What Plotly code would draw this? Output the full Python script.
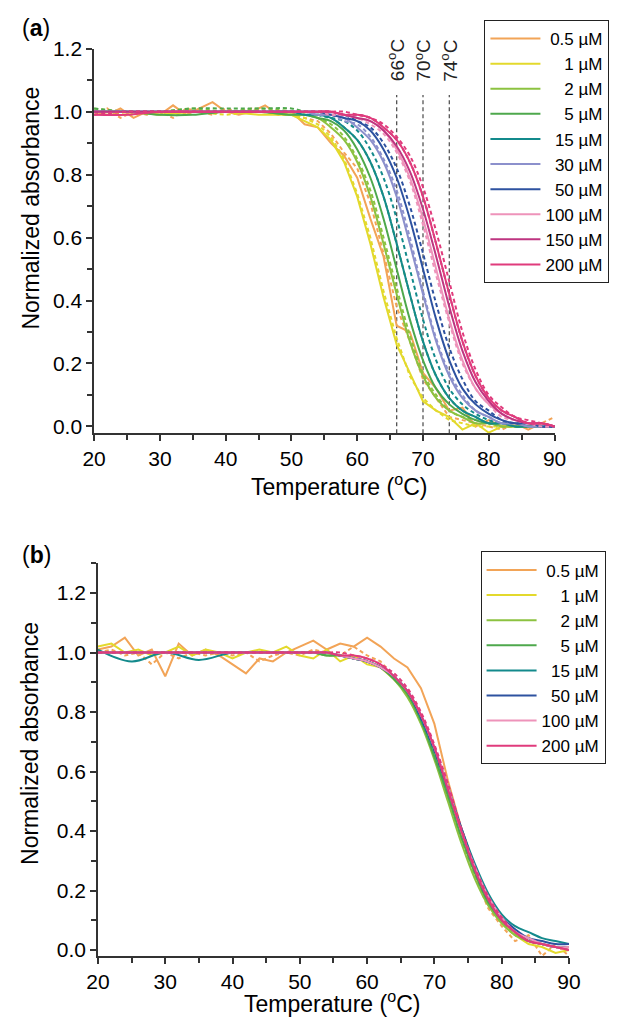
import plotly.graph_objects as go

# ---------------- data ----------------
# temperature grids (degC)
T_SMOOTH = [20, 25, 30, 35, 40, 45, 50, 52, 54, 56, 58, 60, 62, 64, 66, 68, 70,
            72, 74, 76, 78, 80, 82, 84, 86, 88, 90]
T_RAW = [20, 22, 24, 26, 28, 30, 32, 34, 36, 38, 40, 42, 44, 46, 48, 50, 52, 54,
         56, 58, 60, 62, 64, 66, 68, 70, 72, 74, 76, 78, 80, 82, 84, 86, 88, 90]

LABELS_A = ["0.5 µM", "1 µM", "2 µM", "5 µM", "15 µM", "30 µM", "50 µM",
            "100 µM", "150 µM", "200 µM"]
LABELS_B = ["0.5 µM", "1 µM", "2 µM", "5 µM", "15 µM", "50 µM", "100 µM", "200 µM"]

COLORS = {
    "0.5 µM": "#F2A457", "1 µM": "#E3D92C", "2 µM": "#8CC240", "5 µM": "#4EA84C",
    "15 µM": "#138A8C", "30 µM": "#8C90CC", "50 µM": "#2E52A0", "100 µM": "#EE93BA",
    "150 µM": "#BE3580", "200 µM": "#E03B7C",
}

A_05_SOLID = [1.00, 0.99, 1.01, 0.98, 1.00, 0.99, 1.02, 0.99, 1.01, 1.03, 1.00, 0.99,
              1.00, 1.02, 0.99, 1.00, 0.96, 0.95, 0.90, 0.86, 0.79, 0.66, 0.54, 0.32,
              0.30, 0.17, 0.12, 0.05, 0.06, 0.00, 0.02, 0.00, 0.01, -0.01, 0.01, 0.00]
A_05_DASH = [0.99, 1.01, 0.98, 1.00, 0.99, 1.00, 0.98, 1.01, 1.00, 0.99, 1.01, 1.00,
             1.01, 1.00, 0.99, 0.99, 0.98, 0.97, 0.93, 0.87, 0.82, 0.71, 0.55, 0.38,
             0.27, 0.15, 0.09, 0.03, 0.02, 0.01, 0.00, -0.01, 0.01, 0.00, 0.01, 0.03]
A_1_SOLID = [1.00, 1.00, 0.99, 1.00, 1.00, 0.99, 0.99, 0.97, 0.95, 0.91, 0.84, 0.73,
             0.58, 0.41, 0.26, 0.17, 0.08, 0.05, 0.03, -0.01, 0.01, -0.02, 0.00, 0.00,
             0.00, 0.00, 0.00]
A_1_DASH = [1.00, 0.99, 1.00, 1.00, 0.99, 1.00, 0.99, 0.98, 0.96, 0.92, 0.85, 0.74,
            0.60, 0.43, 0.28, 0.16, 0.09, 0.05, 0.02, 0.01, 0.00, 0.00, 0.00, 0.00,
            0.00, 0.00, 0.00]
A_2_SOLID = [1.00, 1.00, 1.00, 1.00, 1.00, 1.00, 0.99, 0.99, 0.98, 0.95, 0.91, 0.84,
             0.73, 0.58, 0.42, 0.27, 0.16, 0.09, 0.05, 0.03, 0.01, 0.01, 0.00, 0.00,
             0.00, 0.00, 0.00]
A_2_DASH = [1.01, 1.00, 1.00, 1.01, 1.00, 1.01, 1.00, 0.99, 0.98, 0.96, 0.92, 0.85,
            0.75, 0.60, 0.44, 0.29, 0.17, 0.10, 0.05, 0.03, 0.02, 0.01, 0.00, 0.00,
            0.00, 0.00, 0.00]
A_5_SOLID = [1.00, 1.00, 0.99, 0.99, 1.00, 1.00, 0.99, 0.99, 0.98, 0.97, 0.94, 0.88,
             0.79, 0.66, 0.50, 0.34, 0.21, 0.12, 0.07, 0.04, 0.02, 0.01, 0.01, 0.00,
             0.00, 0.00, 0.00]
A_5_DASH = [1.01, 1.00, 1.00, 1.01, 1.01, 1.01, 1.01, 1.00, 0.99, 0.98, 0.95, 0.91,
            0.84, 0.73, 0.58, 0.42, 0.27, 0.16, 0.09, 0.05, 0.03, 0.01, 0.01, 0.00,
            0.00, 0.00, 0.00]
A_15_SOLID = [1.00, 1.00, 1.00, 1.00, 1.00, 1.00, 1.00, 0.99, 0.99, 0.98, 0.95, 0.91,
              0.84, 0.73, 0.58, 0.42, 0.27, 0.16, 0.09, 0.05, 0.03, 0.01, 0.01, 0.00,
              0.00, 0.00, 0.00]
A_15_DASH = [1.00, 1.00, 1.00, 1.00, 1.00, 1.00, 1.00, 1.00, 0.99, 0.98, 0.97, 0.94,
             0.88, 0.79, 0.66, 0.50, 0.34, 0.21, 0.12, 0.07, 0.04, 0.02, 0.01, 0.01,
             0.00, 0.00, 0.00]
A_30_SOLID = [1.00, 1.00, 1.00, 1.00, 1.00, 1.00, 1.00, 1.00, 0.99, 0.99, 0.98, 0.95,
              0.91, 0.84, 0.73, 0.58, 0.42, 0.27, 0.16, 0.09, 0.05, 0.03, 0.01, 0.01,
              0.00, 0.00, 0.00]
A_30_DASH = [1.00, 1.00, 1.00, 1.00, 1.00, 1.00, 1.00, 1.00, 0.99, 0.99, 0.97, 0.96,
             0.92, 0.85, 0.75, 0.60, 0.43, 0.28, 0.17, 0.10, 0.05, 0.03, 0.01, 0.01,
             0.00, 0.00, 0.00]
A_50_SOLID = [1.00, 1.00, 1.00, 1.00, 1.00, 1.00, 1.00, 1.00, 1.00, 0.99, 0.98, 0.97,
              0.94, 0.88, 0.79, 0.66, 0.50, 0.34, 0.21, 0.12, 0.07, 0.04, 0.02, 0.01,
              0.01, 0.00, 0.00]
A_50_DASH = [1.00, 1.00, 1.00, 1.00, 1.00, 1.00, 1.00, 1.00, 1.00, 0.99, 0.99, 0.97,
             0.95, 0.90, 0.82, 0.70, 0.55, 0.39, 0.25, 0.15, 0.08, 0.05, 0.02, 0.01,
             0.01, 0.00, 0.00]
A_100_SOLID = [1.00, 1.00, 1.00, 1.00, 1.00, 1.00, 1.00, 1.00, 1.00, 1.00, 0.99, 0.98,
               0.97, 0.94, 0.88, 0.79, 0.66, 0.50, 0.34, 0.21, 0.12, 0.07, 0.04, 0.02,
               0.01, 0.01, 0.00]
A_100_DASH = [1.00, 1.00, 1.00, 1.00, 1.00, 1.00, 1.00, 1.00, 1.00, 0.99, 0.99, 0.98,
              0.96, 0.93, 0.87, 0.78, 0.64, 0.48, 0.33, 0.20, 0.12, 0.07, 0.03, 0.02,
              0.01, 0.00, 0.00]
A_150_SOLID = [1.00, 1.00, 1.00, 1.00, 1.00, 1.00, 1.00, 1.00, 1.00, 1.00, 0.99, 0.98,
               0.97, 0.94, 0.89, 0.81, 0.69, 0.54, 0.38, 0.24, 0.14, 0.08, 0.04, 0.02,
               0.01, 0.01, 0.00]
A_150_DASH = [1.00, 1.00, 1.00, 1.00, 1.00, 1.00, 1.00, 1.00, 1.00, 1.00, 0.99, 0.99,
              0.98, 0.95, 0.91, 0.84, 0.73, 0.58, 0.42, 0.27, 0.16, 0.09, 0.05, 0.03,
              0.01, 0.01, 0.00]
A_200_SOLID = [0.99, 0.99, 1.00, 1.00, 1.00, 1.00, 1.00, 1.00, 1.00, 1.00, 0.99, 0.99,
               0.98, 0.95, 0.91, 0.84, 0.73, 0.58, 0.42, 0.27, 0.16, 0.09, 0.05, 0.03,
               0.01, 0.01, 0.00]
A_200_DASH = [0.99, 1.00, 1.00, 1.00, 1.00, 1.00, 1.00, 1.00, 1.00, 1.00, 1.00, 0.99,
              0.98, 0.96, 0.92, 0.86, 0.76, 0.62, 0.46, 0.30, 0.18, 0.10, 0.06, 0.03,
              0.02, 0.01, 0.00]

B_05_SOLID = [1.01, 1.02, 1.05, 0.99, 1.01, 0.92, 1.03, 0.99, 1.01, 0.99, 0.96, 0.93,
              0.98, 0.97, 1.00, 1.02, 1.04, 1.01, 1.03, 1.02, 1.05, 1.02, 0.98, 0.95,
              0.88, 0.76, 0.57, 0.41, 0.28, 0.17, 0.10, 0.06, 0.03, 0.02, 0.01, 0.00]
B_05_DASH = [1.00, 1.01, 0.99, 1.00, 0.96, 1.00, 0.98, 1.00, 0.99, 1.00, 0.99, 1.00,
             0.97, 0.99, 1.00, 0.99, 1.01, 1.00, 0.99, 1.02, 0.99, 0.97, 0.92, 0.86,
             0.77, 0.66, 0.53, 0.39, 0.25, 0.14, 0.08, 0.03, 0.05, -0.02, 0.02, -0.02]
B_1_SOLID = [1.02, 1.03, 1.00, 1.01, 0.99, 1.00, 1.02, 0.99, 1.01, 1.00, 0.98, 1.00,
             1.01, 1.00, 1.02, 0.99, 0.98, 1.01, 0.97, 0.99, 0.96, 0.95, 0.91, 0.86,
             0.78, 0.66, 0.52, 0.38, 0.26, 0.16, 0.09, 0.05, 0.02, 0.01, -0.01, 0.00]
B_2_SOLID = [1.00, 1.00, 1.00, 1.00, 1.00, 1.00, 1.00, 1.00, 0.99, 0.99, 0.98, 0.97,
             0.95, 0.91, 0.85, 0.76, 0.64, 0.50, 0.36, 0.24, 0.15, 0.09, 0.05, 0.03,
             0.02, 0.01, 0.01]
B_2_DASH = [1.00, 1.00, 1.00, 1.00, 1.00, 1.00, 1.00, 1.00, 0.99, 0.99, 0.98, 0.97,
            0.95, 0.92, 0.86, 0.77, 0.65, 0.51, 0.37, 0.25, 0.16, 0.10, 0.05, 0.03,
            0.02, 0.01, 0.01]
B_5_SOLID = [1.00, 1.00, 1.00, 1.00, 1.00, 1.00, 1.00, 1.00, 0.99, 0.99, 0.98, 0.97,
             0.95, 0.91, 0.86, 0.77, 0.65, 0.52, 0.38, 0.26, 0.16, 0.10, 0.06, 0.03,
             0.02, 0.01, 0.01]
B_15_SOLID = [1.01, 0.97, 1.00, 0.975, 1.00, 1.00, 1.00, 1.00, 1.00, 0.99, 0.98, 0.97,
              0.95, 0.92, 0.87, 0.78, 0.67, 0.54, 0.41, 0.29, 0.19, 0.12, 0.08, 0.06,
              0.04, 0.03, 0.02]
B_50_SOLID = [1.00, 1.00, 1.00, 1.00, 1.00, 1.00, 1.00, 1.00, 1.00, 0.99, 0.98, 0.97,
              0.95, 0.92, 0.87, 0.79, 0.68, 0.55, 0.41, 0.28, 0.18, 0.11, 0.07, 0.04,
              0.03, 0.02, 0.02]
B_50_DASH = [1.00, 1.00, 1.00, 1.00, 1.00, 1.00, 1.00, 1.00, 1.00, 0.99, 0.98, 0.97,
             0.95, 0.92, 0.87, 0.78, 0.67, 0.54, 0.40, 0.27, 0.17, 0.11, 0.06, 0.04,
             0.02, 0.01, 0.01]
B_100_SOLID = [1.00, 1.00, 1.00, 1.00, 1.00, 1.00, 1.00, 1.00, 1.00, 0.99, 0.98, 0.97,
               0.95, 0.92, 0.87, 0.79, 0.68, 0.55, 0.40, 0.28, 0.18, 0.11, 0.06, 0.04,
               0.02, 0.01, 0.01]
B_200_SOLID = [1.00, 1.00, 1.00, 1.00, 1.00, 1.00, 1.00, 1.00, 1.00, 0.99, 0.99, 0.98,
               0.96, 0.92, 0.87, 0.79, 0.68, 0.54, 0.40, 0.27, 0.17, 0.10, 0.06, 0.03,
               0.02, 0.01, 0.00]
B_200_DASH = [1.00, 1.00, 1.00, 1.00, 1.00, 1.00, 1.00, 1.00, 1.00, 1.00, 0.99, 0.98,
              0.96, 0.93, 0.88, 0.80, 0.69, 0.56, 0.41, 0.28, 0.18, 0.11, 0.06, 0.03,
              0.02, 0.01, 0.00]

MELT_MARKS = [66, 70, 74]

PAD = {"0.5 µM": "\u2008", "1 µM": "\u2007\u2007", "2 µM": "\u2007\u2007",
       "5 µM": "\u2007\u2007", "15 µM": "\u2007", "30 µM": "\u2007",
       "50 µM": "\u2007", "100 µM": "", "150 µM": "", "200 µM": ""}

SERIES_A = [
    ("0.5 µM", T_RAW, A_05_SOLID, A_05_DASH, "linear"),
    ("1 µM", T_SMOOTH, A_1_SOLID, A_1_DASH, "linear"),
    ("2 µM", T_SMOOTH, A_2_SOLID, A_2_DASH, "spline"),
    ("5 µM", T_SMOOTH, A_5_SOLID, A_5_DASH, "spline"),
    ("15 µM", T_SMOOTH, A_15_SOLID, A_15_DASH, "spline"),
    ("30 µM", T_SMOOTH, A_30_SOLID, A_30_DASH, "spline"),
    ("50 µM", T_SMOOTH, A_50_SOLID, A_50_DASH, "spline"),
    ("100 µM", T_SMOOTH, A_100_SOLID, A_100_DASH, "spline"),
    ("150 µM", T_SMOOTH, A_150_SOLID, A_150_DASH, "spline"),
    ("200 µM", T_SMOOTH, A_200_SOLID, A_200_DASH, "spline"),
]
SERIES_B = [
    ("0.5 µM", T_RAW, B_05_SOLID, B_05_DASH, "linear"),
    ("1 µM", T_RAW, B_1_SOLID, None, "linear"),
    ("2 µM", T_SMOOTH, B_2_SOLID, B_2_DASH, "spline"),
    ("5 µM", T_SMOOTH, B_5_SOLID, None, "spline"),
    ("15 µM", T_SMOOTH, B_15_SOLID, None, "spline"),
    ("50 µM", T_SMOOTH, B_50_SOLID, B_50_DASH, "spline"),
    ("100 µM", T_SMOOTH, B_100_SOLID, None, "spline"),
    ("200 µM", T_SMOOTH, B_200_SOLID, B_200_DASH, "spline"),
]

# ---------------- figure ----------------
# The page body adds an 8 px margin; the figure is sized so that the page is
# exactly 640 x 1029 and all positions below are given in page pixels.
PAGE_W, PAGE_H = 640, 1029
OFF = 8
W, H = PAGE_W - 2 * OFF, PAGE_H - 2 * OFF
FONT = "Arial, Liberation Sans, Helvetica, sans-serif"


def px(v):
    return (v - OFF) / W


def py(v):
    return 1 - (v - OFF) / H


fig = go.Figure()


def add_panel(series, xa, ya, legend_name):
    for name, temps, solid, dashed, shape in series:
        color = COLORS[name]
        if dashed is not None:
            fig.add_trace(go.Scatter(
                x=temps, y=dashed, mode="lines", name=name + " (rep. 2)",
                line=dict(color=color, width=2, dash="4px,3px", shape=shape),
                xaxis=xa, yaxis=ya, showlegend=False, legend=legend_name))
        fig.add_trace(go.Scatter(
            x=temps, y=solid, mode="lines", name=PAD[name] + name,
            line=dict(color=color, width=2, shape=shape),
            xaxis=xa, yaxis=ya, showlegend=True, legend=legend_name))


add_panel(SERIES_A, "x", "y", "legend")
add_panel(SERIES_B, "x2", "y2", "legend2")

AX = dict(showline=True, linecolor="#333", linewidth=1.5, ticks="outside", ticklen=6,
          tickwidth=1.5, tickcolor="#333", showgrid=False, zeroline=False,
          tickfont=dict(size=21, family=FONT, color="#000"))
XAX = dict(AX, range=[19.99, 90.01], tick0=20, dtick=10,
           minor=dict(dtick=5, ticks="outside", ticklen=5, tickwidth=1.5,
                      tickcolor="#333", showgrid=False))
YAX = dict(AX, tick0=0, dtick=0.2, tickformat=".1f",
           minor=dict(dtick=0.1, ticks="outside", ticklen=5, tickwidth=1.5,
                      tickcolor="#333", showgrid=False))

fig.update_layout(
    width=W, height=H, autosize=False,
    margin=dict(l=0, r=0, t=0, b=0),
    paper_bgcolor="white", plot_bgcolor="white",
    font=dict(family=FONT, color="#000"),
    xaxis=dict(XAX, domain=[px(85), px(564)], anchor="y"),
    yaxis=dict(YAX, domain=[py(429), py(38)], range=[-0.022, 1.2005], anchor="x"),
    xaxis2=dict(XAX, domain=[px(89), px(579)], anchor="y2"),
    yaxis2=dict(YAX, domain=[py(960), py(561)], range=[-0.02, 1.30], anchor="x2"),
    legend=dict(x=px(491), y=py(9), xanchor="left", yanchor="top",
                bordercolor="#222", borderwidth=1, bgcolor="white",
                font=dict(size=17, family=FONT, color="#000"),
                itemwidth=50),
    legend2=dict(x=px(487), y=py(549), xanchor="left", yanchor="top",
                 bordercolor="#222", borderwidth=1, bgcolor="white",
                 font=dict(size=17, family=FONT, color="#000"),
                 itemwidth=50),
)

for t in MELT_MARKS:
    fig.add_shape(type="line", xref="x", yref="y", x0=t, x1=t, y0=-0.022, y1=1.053,
                  line=dict(color="#555", width=1.3, dash="4px,3px"), layer="below")
    fig.add_annotation(x=t, y=1.1625, xref="x", yref="y", text=f"{t}<sup>o</sup>C",
                       textangle=-90, showarrow=False,
                       font=dict(size=19, family=FONT, color="#222"))

fig.add_annotation(x=0, y=py(17), xref="paper", yref="paper", text="(<b>a</b>)",
                   xanchor="left", yanchor="middle", showarrow=False,
                   font=dict(size=23, family=FONT, color="#000"))
fig.add_annotation(x=0, y=py(553), xref="paper", yref="paper", text="(<b>b</b>)",
                   xanchor="left", yanchor="middle", showarrow=False,
                   font=dict(size=23, family=FONT, color="#000"))
for xc, yc in [(340, 481), (332, 1007)]:
    fig.add_annotation(x=px(xc), y=py(yc), xref="paper", yref="paper",
                       text="Temperature (<sup>o</sup>C)", showarrow=False,
                       xanchor="center", yanchor="middle",
                       font=dict(size=23, family=FONT, color="#000"))
for xc, yc in [(19, 200), (19, 744)]:
    fig.add_annotation(x=px(xc), y=py(yc), xref="paper", yref="paper",
                       text="Normalized absorbance", showarrow=False, textangle=-90,
                       xanchor="center", yanchor="middle",
                       font=dict(size=23, family=FONT, color="#000"))

fig.write_html("out.html")
